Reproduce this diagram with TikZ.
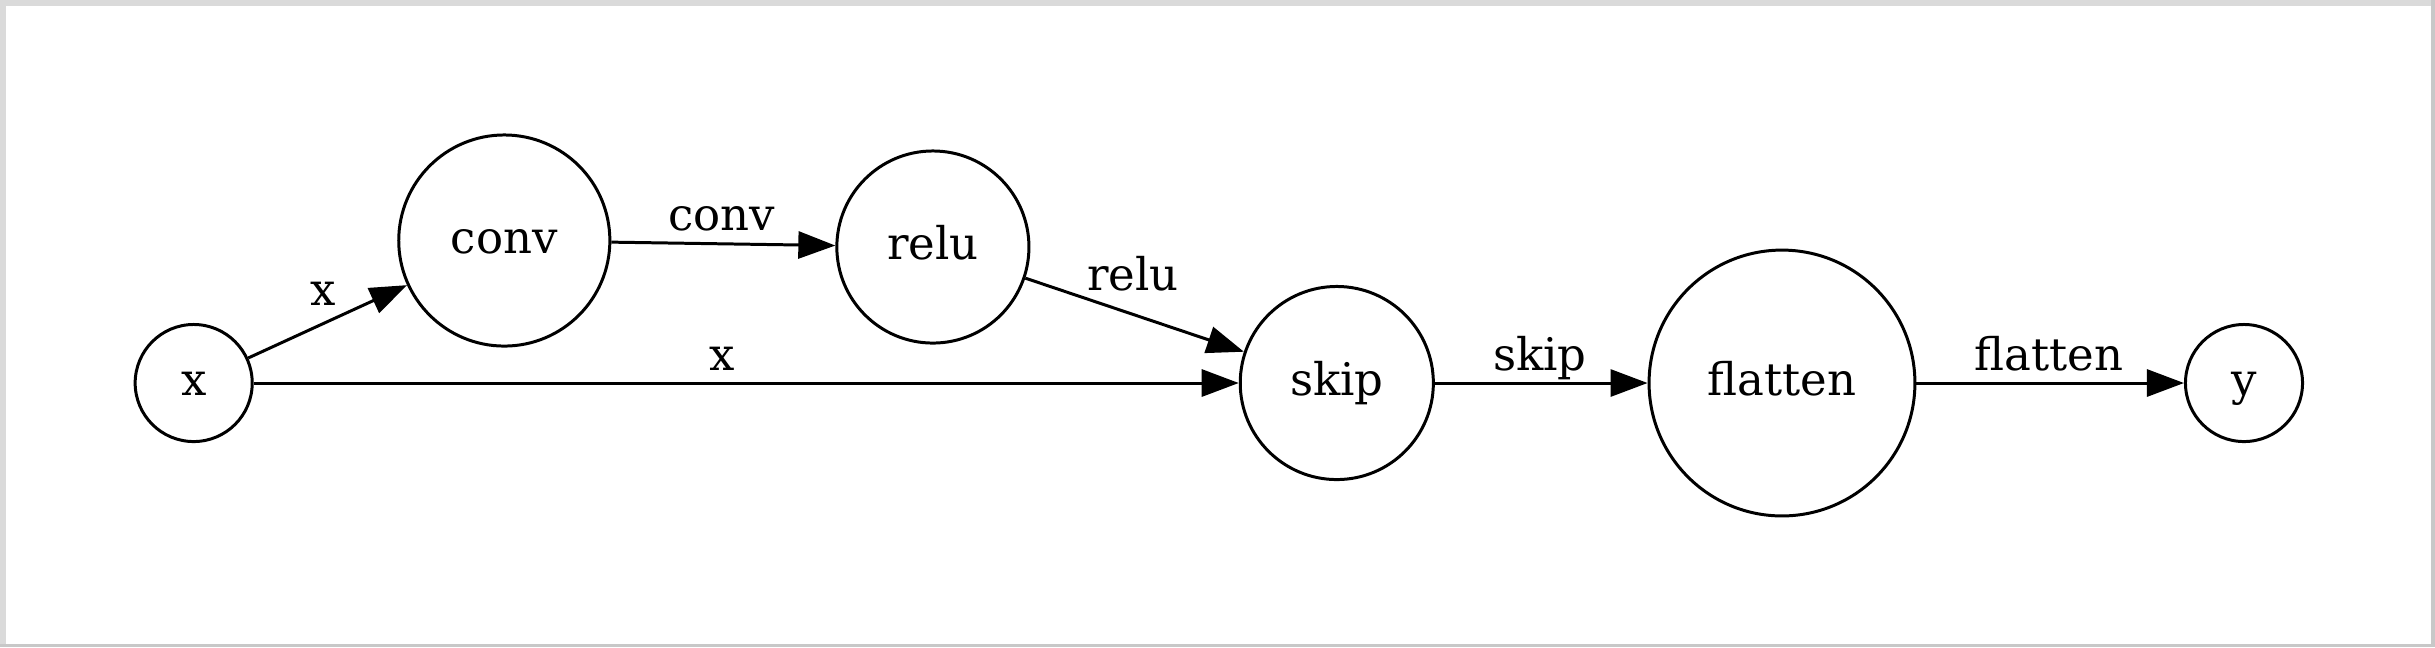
\documentclass[tikz,border=0pt]{standalone}
\usepackage{fontspec}
\setmainfont{DejaVu Serif}
\usetikzlibrary{arrows.meta}
\definecolor{frameA}{RGB}{200,200,200}
\definecolor{frameB}{RGB}{218,218,218}
\begin{document}
\begin{tikzpicture}[x=0.01cm,y=-0.01cm,
  every node/.style={font=\fontsize{12.8pt}{15pt}\selectfont},
  nd/.style={circle,draw,line width=0.85pt,inner sep=0pt,text height=0.34cm,text depth=0.09cm},
  lbl/.style={anchor=base,inner sep=0pt},
  edge/.style={line width=0.85pt,-{Triangle[length=3.7mm,width=2.7mm]}}]
\fill[frameA] (0,0) rectangle (2435,647);
\fill[frameB] (0,0) rectangle (2431,644);
\fill[white] (6,6) rectangle (2431,644);
\useasboundingbox (0,0) rectangle (2435,647);

\node[nd,minimum size=1.17cm] (x) at (193.7,383) {x};
\node[nd,minimum size=2.11cm] (conv) at (504.3,240.5) {conv};
\node[nd,minimum size=1.92cm] (relu) at (932.9,247) {relu};
\node[nd,minimum size=1.93cm] (skip) at (1336.8,383) {skip};
\node[nd,minimum size=2.657cm] (flatten) at (1782,383) {flatten};
\node[nd,minimum size=1.17cm] (y) at (2244,383) {y};

\draw[edge] (x) -- (conv);
\draw[edge] (conv) -- (relu);
\draw[edge] (relu) -- (skip);
\draw[edge] (x) -- (skip);
\draw[edge] (skip) -- (flatten);
\draw[edge] (flatten) -- (y);

\node[lbl] (lx1) at (323.2,305) {x};
\node[lbl] (lconv) at (721.9,230.7) {conv};
\node[lbl] (lx2) at (722.3,370.7) {x};
\node[lbl] (lrelu) at (1132.9,290) {relu};
\node[lbl] (lskip) at (1539.9,370.7) {skip};
\node[lbl] (lflat) at (2049,370.7) {flatten};
\end{tikzpicture}
\end{document}
